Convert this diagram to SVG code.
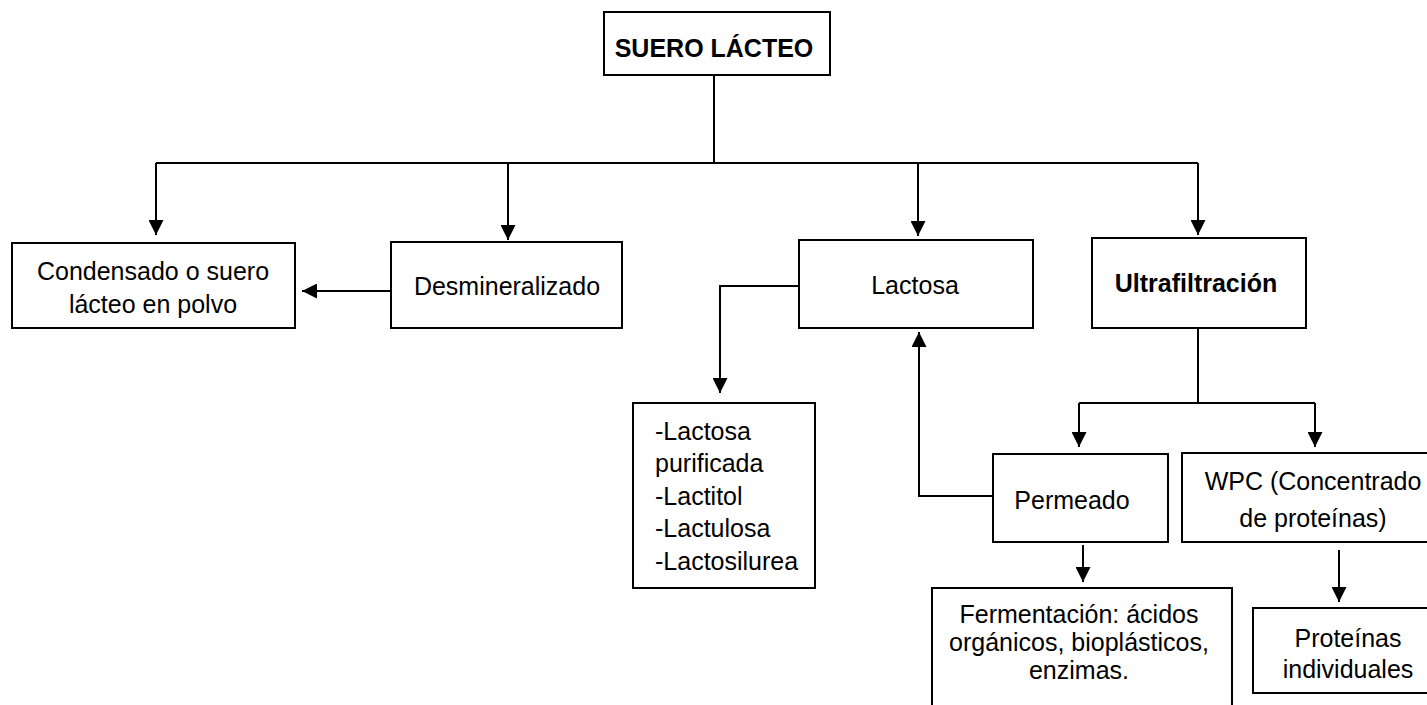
<svg xmlns="http://www.w3.org/2000/svg" width="1427" height="705" viewBox="0 0 1427 705">
<style>
.box{fill:#fff;stroke:#000;stroke-width:2}
.t{font-family:"Liberation Sans",Arial,sans-serif;font-size:25px;fill:#000}
.c{text-anchor:middle}
.b{font-weight:bold}
.ln{fill:none;stroke:#000;stroke-width:2}
</style>
<defs>
<marker id="ah" viewBox="0 0 15 15" refX="15" refY="7.5" markerWidth="15" markerHeight="15" markerUnits="userSpaceOnUse" orient="auto">
<path d="M0,0 L15,7.5 L0,15 Z" fill="#000"/>
</marker>
</defs>
<rect width="1427" height="705" fill="#fff"/>
<g id="connectors">
<path class="ln" d="M714,75 V163"/>
<path class="ln" d="M156,163 H1198"/>
<path class="ln" d="M156,163 V235" marker-end="url(#ah)"/>
<path class="ln" d="M508,163 V240" marker-end="url(#ah)"/>
<path class="ln" d="M918,163 V236" marker-end="url(#ah)"/>
<path class="ln" d="M1198,163 V235" marker-end="url(#ah)"/>
<path class="ln" d="M391,291 H302" marker-end="url(#ah)"/>
<path class="ln" d="M799,286 H720 V393" marker-end="url(#ah)"/>
<path class="ln" d="M993,496 H919 V332" marker-end="url(#ah)"/>
<path class="ln" d="M1198,328 V403"/>
<path class="ln" d="M1079,403 H1315"/>
<path class="ln" d="M1079,403 V447" marker-end="url(#ah)"/>
<path class="ln" d="M1315,403 V447" marker-end="url(#ah)"/>
<path class="ln" d="M1083,545 V582" marker-end="url(#ah)"/>
<path class="ln" d="M1339,550 V602" marker-end="url(#ah)"/>
</g>
<g id="suero">
<rect class="box" x="604" y="12" width="226" height="63"/>
<text class="t c b" x="714" y="57" font-size="23">SUERO LÁCTEO</text>
</g>
<g id="condensado">
<rect class="box" x="12" y="243" width="283" height="85"/>
<text class="t c" x="153" y="280">Condensado o suero</text>
<text class="t c" x="153" y="313">lácteo en polvo</text>
</g>
<g id="desmineralizado">
<rect class="box" x="391" y="242" width="231" height="86"/>
<text class="t c" x="507" y="295">Desmineralizado</text>
</g>
<g id="lactosa">
<rect class="box" x="799" y="240" width="234" height="88"/>
<text class="t c" x="915" y="294">Lactosa</text>
</g>
<g id="ultrafiltracion">
<rect class="box" x="1092" y="238" width="214" height="90"/>
<text class="t c b" x="1196" y="292">Ultrafiltración</text>
</g>
<g id="derivados">
<rect class="box" x="633" y="403" width="182" height="185"/>
<text class="t" x="655" y="440">-Lactosa</text>
<text class="t" x="655" y="472">purificada</text>
<text class="t" x="655" y="505">-Lactitol</text>
<text class="t" x="655" y="537">-Lactulosa</text>
<text class="t" x="655" y="570">-Lactosilurea</text>
</g>
<g id="permeado">
<rect class="box" x="993" y="454" width="175" height="88"/>
<text class="t c" x="1072" y="509">Permeado</text>
</g>
<g id="wpc">
<rect class="box" x="1182" y="453" width="262" height="89"/>
<text class="t c" x="1313" y="490">WPC (Concentrado</text>
<text class="t c" x="1313" y="527">de proteínas)</text>
</g>
<g id="fermentacion">
<rect class="box" x="932" y="588" width="300" height="130"/>
<text class="t c" x="1079" y="623">Fermentación: ácidos</text>
<text class="t c" x="1079" y="651">orgánicos, bioplásticos,</text>
<text class="t c" x="1079" y="679">enzimas.</text>
</g>
<g id="proteinas">
<rect class="box" x="1253" y="608" width="190" height="85"/>
<text class="t c" x="1348" y="647">Proteínas</text>
<text class="t c" x="1348" y="678">individuales</text>
</g>
</svg>
